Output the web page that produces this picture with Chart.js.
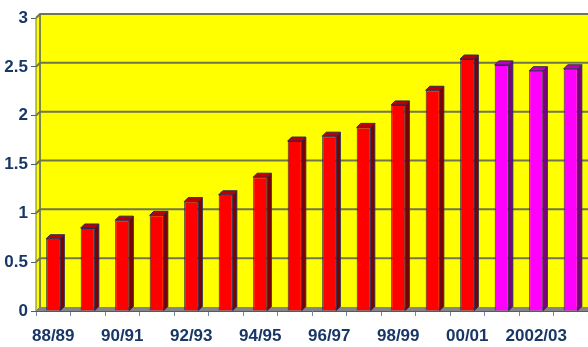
<!DOCTYPE html>
<html>
<head>
<meta charset="utf-8">
<script src="https://cdn.jsdelivr.net/npm/chart.js@4/dist/chart.umd.min.js"></script>
<style>
  html, body { margin: 0; padding: 0; background: #fff; }
  #wrap { width: 588px; height: 347px; }
</style>
</head>
<body>
<div id="wrap"><canvas id="chart" width="588" height="347"></canvas></div>
<script>
const categories = ['88/89', '89/90', '90/91', '91/92', '92/93', '93/94', '94/95', '95/96',
  '96/97', '97/98', '98/99', '99/00', '00/01', '2001/02', '2002/03', '2003/04'];
const actualValues = [0.74, 0.85, 0.93, 0.98, 1.12, 1.19, 1.37, 1.74, 1.79, 1.88, 2.11, 2.26, 2.58,
  null, null, null];
const forecastValues = [null, null, null, null, null, null, null, null, null, null, null, null, null,
  2.52, 2.46, 2.48];
const yTicks = [0, 0.5, 1, 1.5, 2, 2.5, 3];

const DEPTH = 4;
const INK = '#183766';
const GRID = '#6f7650';
const LABEL_FONT = { family: "'Liberation Sans', Arial, sans-serif", weight: 'bold', size: 17 };

// back wall, side wall, floor and gridlines drawn behind the bars
const wallPlugin = {
  id: 'walls',
  beforeDatasetsDraw(chart) {
    const { ctx, chartArea: a, scales: { y } } = chart;
    ctx.save();
    ctx.lineWidth = 1;
    ctx.strokeStyle = GRID;
    ctx.fillStyle = '#ffff00';
    ctx.fillRect(a.left + DEPTH, a.top - DEPTH, a.right - a.left - DEPTH, a.bottom - a.top);
    ctx.beginPath();
    ctx.moveTo(a.left, a.top);
    ctx.lineTo(a.left + DEPTH, a.top - DEPTH);
    ctx.lineTo(a.left + DEPTH, a.bottom - DEPTH);
    ctx.lineTo(a.left, a.bottom);
    ctx.closePath();
    ctx.fill();
    ctx.stroke();
    // floor
    ctx.fillStyle = '#858585';
    ctx.beginPath();
    ctx.moveTo(a.left, a.bottom);
    ctx.lineTo(a.left + DEPTH, a.bottom - DEPTH);
    ctx.lineTo(a.right, a.bottom - DEPTH);
    ctx.lineTo(a.right, a.bottom);
    ctx.closePath();
    ctx.fill();
    // gridlines on the back wall
    ctx.lineWidth = 2;
    yTicks.forEach(v => {
      const py = y.getPixelForValue(v);
      if (v === 0) return;
      ctx.beginPath();
      ctx.moveTo(a.left, py);
      ctx.lineTo(a.left + DEPTH, py - DEPTH);
      ctx.lineTo(a.right, py - DEPTH);
      ctx.stroke();
    });
    ctx.lineWidth = 1.5;
    ctx.beginPath();
    ctx.moveTo(a.left + DEPTH, a.top - DEPTH);
    ctx.lineTo(a.left + DEPTH, a.bottom - DEPTH);
    ctx.stroke();
    ctx.restore();
  }
};

// side and top faces of each bar
const bar3dPlugin = {
  id: 'bar3d',
  afterDatasetsDraw(chart) {
    const { ctx } = chart;
    ctx.save();
    ctx.lineWidth = 1;
    ctx.strokeStyle = '#2a2a5a';
    chart.data.datasets.forEach((ds, i) => {
      const meta = chart.getDatasetMeta(i);
      meta.data.forEach((bar, j) => {
        if (ds.data[j] == null) return;
        const { x, y, base, width } = bar.getProps(['x', 'y', 'base', 'width'], true);
        const x0 = x - width / 2, x1 = x + width / 2;
        ctx.fillStyle = ds.sideColor;
        ctx.beginPath();
        ctx.moveTo(x1, y);
        ctx.lineTo(x1 + DEPTH, y - DEPTH);
        ctx.lineTo(x1 + DEPTH, base - DEPTH);
        ctx.lineTo(x1, base);
        ctx.closePath();
        ctx.fill();
        ctx.stroke();
        ctx.fillStyle = ds.topColor;
        ctx.beginPath();
        ctx.moveTo(x0, y);
        ctx.lineTo(x0 + DEPTH, y - DEPTH);
        ctx.lineTo(x1 + DEPTH, y - DEPTH);
        ctx.lineTo(x1, y);
        ctx.closePath();
        ctx.fill();
        ctx.stroke();
      });
    });
    ctx.restore();
  }
};

new Chart(document.getElementById('chart'), {
  type: 'bar',
  data: {
    labels: categories,
    datasets: [
      {
        data: actualValues,
        backgroundColor: '#ff0000',
        sideColor: '#800000',
        topColor: '#c00000',
        borderColor: '#2a2a5a',
        borderWidth: 1,
        barPercentage: 0.41,
        categoryPercentage: 1
      },
      {
        data: forecastValues,
        backgroundColor: '#ff00ff',
        sideColor: '#800080',
        topColor: '#c000c0',
        borderColor: '#2a2a5a',
        borderWidth: 1,
        barPercentage: 0.41,
        categoryPercentage: 1
      }
    ]
  },
  options: {
    responsive: false,
    animation: false,
    layout: { padding: { top: 18, right: 0, left: 0, bottom: 0 } },
    plugins: { legend: { display: false }, tooltip: { enabled: false } },
    scales: {
      x: {
        stacked: true,
        grid: { display: true, drawOnChartArea: false, offset: true, tickLength: 5, color: '#6f88a8' },
        border: { display: true, color: '#4c5c78', width: 1 },
        ticks: {
          autoSkip: false,
          maxRotation: 0,
          padding: 10,
          color: INK,
          font: LABEL_FONT,
          callback: (v, i) => (i % 2 === 0 ? categories[i] : '')
        },
        afterFit: s => { s.height = 36; }
      },
      y: {
        stacked: true,
        min: 0,
        max: 3,
        afterBuildTicks: s => { s.ticks = yTicks.map(v => ({ value: v })); },
        grid: { display: true, drawOnChartArea: false, tickLength: 5, color: '#4c5c78' },
        border: { display: true, color: '#4c5c78', width: 1 },
        ticks: {
          padding: 3,
          color: INK,
          font: LABEL_FONT,
          callback: v => String(v)
        },
        afterFit: s => { s.width = 36; }
      }
    }
  },
  plugins: [wallPlugin, bar3dPlugin]
});
</script>
</body>
</html>
